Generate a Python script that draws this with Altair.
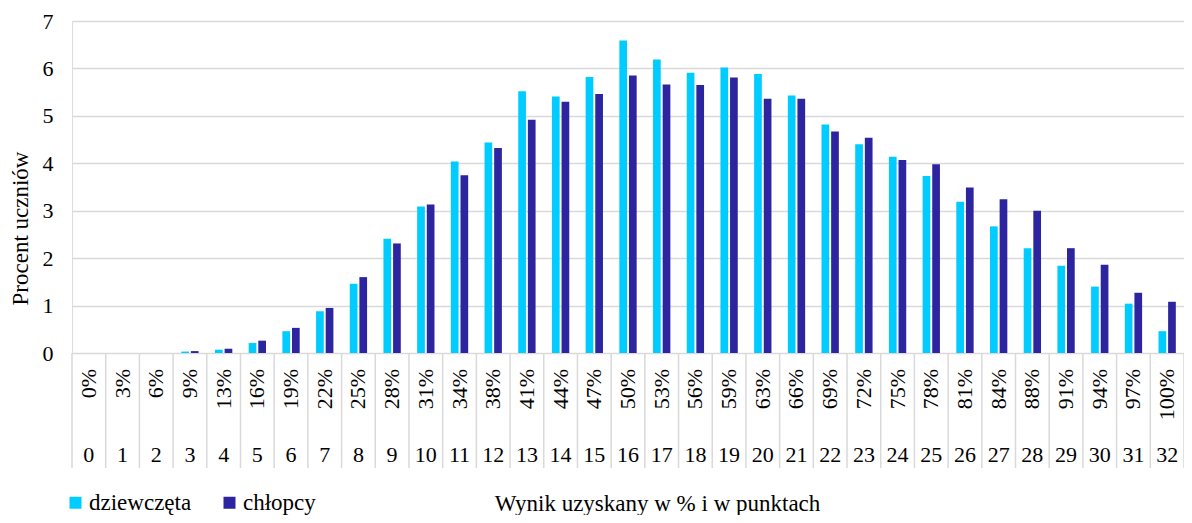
import altair as alt
import pandas as pd

points = list(range(33))
pct_labels = ["0%", "3%", "6%", "9%", "13%", "16%", "19%", "22%", "25%", "28%", "31%",
              "34%", "38%", "41%", "44%", "47%", "50%", "53%", "56%", "59%", "63%", "66%",
              "69%", "72%", "75%", "78%", "81%", "84%", "88%", "91%", "94%", "97%", "100%"]
girls = [0, 0, 0, 0.03, 0.07, 0.21, 0.46, 0.88, 1.46, 2.41, 3.09, 4.04, 4.44, 5.52, 5.41, 5.82,
         6.59, 6.19, 5.91, 6.02, 5.88, 5.43, 4.82, 4.40, 4.14, 3.73, 3.19, 2.67, 2.21, 1.84,
         1.40, 1.04, 0.46]
boys = [0, 0, 0, 0.04, 0.09, 0.26, 0.53, 0.95, 1.60, 2.31, 3.13, 3.75, 4.32, 4.92, 5.30, 5.46,
        5.85, 5.66, 5.65, 5.81, 5.36, 5.36, 4.67, 4.54, 4.07, 3.98, 3.49, 3.24, 3.00, 2.21,
        1.86, 1.27, 1.08]
series_names = ["dziewczęta", "chłopcy"]
series_colors = ["#00CCFF", "#2D24A0"]

rows = []
for i, p in enumerate(points):
    rows.append({"cat": p, "series": series_names[0], "value": girls[i]})
    rows.append({"cat": p, "series": series_names[1], "value": boys[i]})
bars_df = pd.DataFrame(rows)
labels_df = pd.DataFrame({"cat": points, "pct": pct_labels, "pts": [str(p) for p in points]})

W, H = 1112, 332
FONT = "Liberation Serif"
GRID = "#d9d9d9"

xscale = alt.Scale(paddingInner=0, paddingOuter=0)
xaxis = alt.Axis(labels=False, ticks=False, domain=False, grid=False,
                 title="Wynik uzyskany w % i w punktach", titleX=585, titleY=157,
                 titleAlign="center", titleBaseline="alphabetic", titleFont=FONT,
                 titleFontSize=23, titleFontWeight="normal", titleColor="black")

bars = alt.Chart(bars_df).mark_bar().encode(
    x=alt.X("cat:O", scale=xscale, axis=xaxis),
    xOffset=alt.XOffset("series:N", sort=series_names,
                        scale=alt.Scale(paddingInner=0.2, paddingOuter=0.85)),
    y=alt.Y("value:Q", scale=alt.Scale(domain=[0, 7], nice=False),
            axis=alt.Axis(values=list(range(8)), grid=True, gridColor=GRID, gridWidth=1.5,
                          ticks=False, domain=False, labelFont=FONT, labelFontSize=22,
                          labelColor="black", labelPadding=19,
                          title="Procent uczniów", titleFont=FONT, titleFontSize=23,
                          titleFontWeight="normal", titleColor="black",
                          titleAngle=270, titleX=-52, titleY=207,
                          titleAlign="center", titleBaseline="middle")),
    color=alt.Color("series:N",
                    scale=alt.Scale(domain=series_names, range=series_colors),
                    legend=alt.Legend(title=None, orient="none", direction="horizontal",
                                      legendX=-8, legendY=470, symbolType="square",
                                      symbolSize=144, symbolStrokeWidth=0,
                                      labelFont=FONT, labelFontSize=23, labelColor="black",
                                      labelOffset=2, columnPadding=26, padding=0)),
)

sep_left = alt.Chart(labels_df).mark_rule(color=GRID, strokeWidth=1.5).encode(
    x=alt.X("cat:O", scale=xscale, axis=xaxis, bandPosition=0),
    y=alt.value(H), y2=alt.value(H + 115),
)
sep_right = alt.Chart(labels_df).mark_rule(color=GRID, strokeWidth=1.5).encode(
    x=alt.X("cat:O", scale=xscale, axis=xaxis, bandPosition=1),
    y=alt.value(H), y2=alt.value(H + 115),
).transform_filter(alt.datum.cat == points[-1])

pct_text = alt.Chart(labels_df).mark_text(
    angle=270, align="right", baseline="middle", font=FONT, fontSize=22, color="black"
).encode(
    x=alt.X("cat:O", scale=xscale, axis=xaxis),
    y=alt.value(H + 16),
    text="pct:N",
)
pts_text = alt.Chart(labels_df).mark_text(
    align="center", baseline="middle", font=FONT, fontSize=22, color="black"
).encode(
    x=alt.X("cat:O", scale=xscale, axis=xaxis),
    y=alt.value(H + 102),
    text="pts:N",
)

chart = alt.layer(bars, sep_left, sep_right, pct_text, pts_text).properties(
    width=W, height=H,
    autosize=alt.AutoSizeParams(type="none"),
    padding={"left": 64, "top": 13, "right": 0, "bottom": 162},
).configure_view(stroke=GRID, strokeWidth=1.5).configure(font=FONT)

chart.save("out.html", embed_options={"renderer": "svg", "actions": False})
